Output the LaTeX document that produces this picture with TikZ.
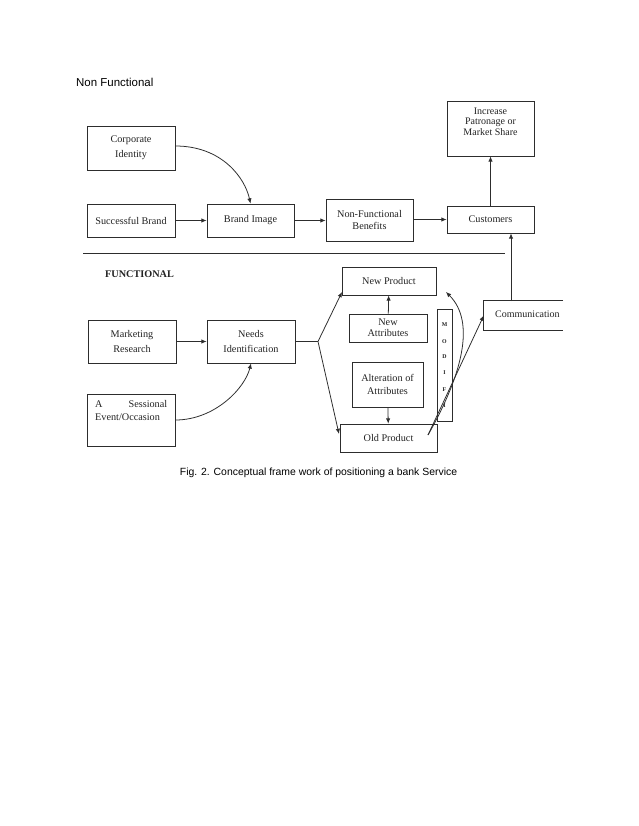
\documentclass[tikz,border=0pt]{standalone}
\usepackage{fontspec}
\setmainfont{Liberation Serif}
\newfontfamily\arialfont{Liberation Sans}
\usetikzlibrary{arrows.meta,calc}
\definecolor{ln}{RGB}{45,45,45}
\definecolor{tx}{RGB}{35,35,35}
\begin{document}
\begin{tikzpicture}[x=0.959pt,y=-0.959pt,
  box/.style={draw=ln,line width=0.75pt,inner sep=0pt,align=center,text=tx},
  conn/.style={draw=ln,line width=0.75pt},
  arr/.style={conn,-{Latex[length=5pt,width=4.2pt]}},
  lbl/.style={inner sep=0pt,align=center,text=tx}]
\useasboundingbox[fill=white] (0,0) rectangle (638,826);

% titles
\node[anchor=west,inner sep=0pt,font=\arialfont\fontsize{11}{13}\selectfont] (title) at (76,82) {Non Functional};
\node[inner sep=0pt,font=\bfseries\fontsize{9.8}{12}\selectfont,text=tx] (func) at (139.5,274) {FUNCTIONAL};
\node[inner sep=0pt,font=\arialfont\fontsize{10}{12}\selectfont] (cap) at (318.5,473) {Fig. 2. Conceptual frame work of positioning a bank Service};

% upper (non functional) boxes
\node[box,minimum width=88*0.959pt,minimum height=44*0.959pt,font=\fontsize{9.8}{14.4}\selectfont] (ci) at (131,148) {Corporate\\Identity};
\node[box,minimum width=88*0.959pt,minimum height=33*0.959pt,font=\fontsize{9.8}{12}\selectfont] (sb) at (131,220.5) {Successful Brand};
\node[box,minimum width=87*0.959pt,minimum height=33*0.959pt,font=\fontsize{9.8}{12}\selectfont] (bi) at (250.5,220.5) {Brand Image};
\node[box,minimum width=87*0.959pt,minimum height=42*0.959pt,font=\fontsize{9.8}{11.8}\selectfont] (nfb) at (369.5,220) {Non-Functional\\Benefits};
\node[box,minimum width=87*0.959pt,minimum height=27*0.959pt,font=\fontsize{9.8}{12}\selectfont] (cust) at (490.5,219.5) {Customers};
\node[box,minimum width=87*0.959pt,minimum height=55*0.959pt] (inc) at (490.5,128.5) {};
\node[lbl,font=\fontsize{9.6}{9.9}\selectfont] (inct) at (490.5,121.5) {Increase\\Patronage or\\Market Share};

% separator
\coordinate (sepL) at (83,253);
\coordinate (sepR) at (505,253);
\draw[conn] (sepL) -- (sepR);

% lower (functional) boxes
\node[box,minimum width=88*0.959pt,minimum height=43*0.959pt,font=\fontsize{9.8}{15.3}\selectfont] (mr) at (132,341.5) {Marketing\\Research};
\node[box,minimum width=88*0.959pt,minimum height=43*0.959pt,font=\fontsize{9.8}{15.3}\selectfont] (ni) at (251,341.5) {Needs\\Identification};
\node[box,minimum width=88*0.959pt,minimum height=52*0.959pt] (sess) at (131,420) {};
\node[lbl,anchor=north west,align=left,text width=72*0.959pt,font=\fontsize{9.8}{12.5}\selectfont] (sesst) at (95,400.5) {A\hfill Sessional\\Event/Occasion};

\node[box,minimum width=94*0.959pt,minimum height=28*0.959pt,font=\fontsize{9.8}{12}\selectfont] (np) at (389,281) {New Product};
\node[box,minimum width=78*0.959pt,minimum height=28*0.959pt,font=\fontsize{9.8}{10.2}\selectfont] (na) at (388,328) {New\\Attributes};
\node[box,minimum width=71*0.959pt,minimum height=45*0.959pt,font=\fontsize{9.8}{12.5}\selectfont] (aa) at (387.5,384.5) {Alteration of\\Attributes};
\node[box,minimum width=97*0.959pt,minimum height=28*0.959pt,font=\fontsize{9.8}{12}\selectfont] (op) at (388.5,438) {Old Product};
\node[box,minimum width=15*0.959pt,minimum height=112*0.959pt] (mod) at (444.5,365) {};
\foreach \l/\yy [count=\i] in {M/325,O/342,D/357,I/373,F/390,I/406}
  \node[lbl,font=\bfseries\fontsize{5.6}{6}\selectfont] (mod\i) at (444.5,\yy) {\l};

% communication box (open on the right)
\node[inner sep=0pt,minimum width=79*0.959pt,minimum height=29*0.959pt] (comm) at (523.5,315.5) {};
\draw[conn] (comm.north east) -- (comm.north west) -- (comm.south west) -- (comm.south east);
\node[lbl,anchor=west,font=\fontsize{9.6}{12}\selectfont] (commt) at (495,314) {Communication};

% connectors upper
\draw[arr] (ci.east |- 0,146) .. controls (222,146) and (245,178) .. (bi.north);
\draw[arr] (sb) -- (bi);
\draw[arr] (bi) -- (nfb.west |- bi);
\draw[arr] (nfb.east |- cust) -- (cust);
\draw[arr] (cust) -- (inc);
\coordinate (cu) at (511,301);
\draw[arr] (cu) -- (cu |- cust.south);

% connectors lower
\draw[arr] (mr) -- (ni);
\draw[arr] (sess.east) .. controls (215,420) and (245,388) .. (ni.south);
\coordinate (fk) at (318,341.5);
\draw[conn] (ni.east) -- (fk);
\coordinate (npin) at (342,292);
\coordinate (opin) at (339,434);
\draw[arr] (fk) -- (npin);
\draw[arr] (fk) -- (opin);
\draw[arr] (na) -- (np);
\draw[arr] (aa) -- (op);
\coordinate (os) at (428,435);
\coordinate (npr) at (446,292);
\draw[arr] (os) -- (comm.west);
\draw[arr] (os) .. controls (462,375) and (476,322) .. (npr);
\end{tikzpicture}
\end{document}
